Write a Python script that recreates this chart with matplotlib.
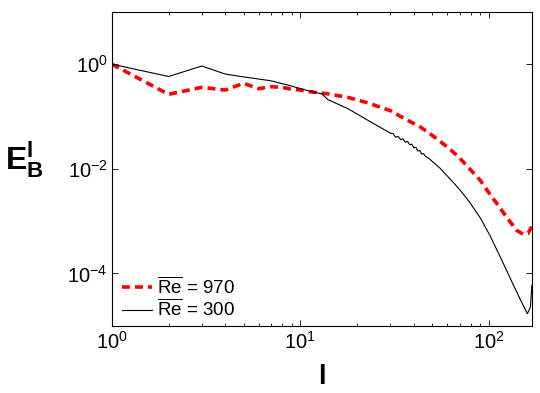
import matplotlib
matplotlib.use("Agg")
import matplotlib.pyplot as plt
from matplotlib.ticker import LogLocator, NullLocator, NullFormatter

plt.rcParams['font.family'] = ['Liberation Sans', 'DejaVu Sans']
plt.rcParams['mathtext.fontset'] = 'custom'
plt.rcParams['mathtext.rm'] = 'Liberation Sans'
plt.rcParams['mathtext.it'] = 'Liberation Sans:italic'
plt.rcParams['mathtext.bf'] = 'Liberation Sans:bold'

# spectrum for Re = 970 (red dashed)
l_970 = [1, 2, 3, 4, 5, 6, 7, 8, 9, 10, 11, 14, 18, 23, 30, 36, 43, 49, 55,
         62, 70, 79, 90, 101, 112, 124, 140, 152, 161, 169]
e_970 = [1.0, 0.265, 0.36, 0.32, 0.43, 0.34, 0.37, 0.36, 0.33, 0.32, 0.30,
         0.27, 0.23, 0.18, 0.129, 0.089, 0.064, 0.046, 0.0336, 0.024, 0.016,
         0.010, 0.006, 0.0033, 0.002, 0.0012, 0.00067, 0.00056, 0.00058,
         0.0008]

# spectrum for Re = 300 (black solid)
l_300 = [1, 2, 3, 4, 5, 7, 9, 11, 13, 14, 18, 23, 30, 31, 32, 33, 34, 35, 36,
         37, 38, 39, 40, 41, 42, 43, 44, 45, 46, 48, 55, 62, 70, 79, 90, 101,
         112, 124, 134, 146, 160, 166, 169]
e_300 = [1.0, 0.58, 0.92, 0.645, 0.57, 0.48, 0.38, 0.31, 0.27, 0.21, 0.139,
         0.083, 0.048, 0.047, 0.040, 0.0417, 0.036, 0.0373, 0.0322, 0.0334,
         0.0289, 0.0295, 0.0252, 0.0257, 0.0219, 0.0224, 0.0191, 0.0195,
         0.0174, 0.0158, 0.0103, 0.0065, 0.004, 0.0023, 0.00115, 0.00054,
         0.00025, 0.000115, 0.000063, 0.000033, 0.000017, 0.000023, 0.00006]

fig = plt.figure(figsize=(5.4, 3.93), dpi=100)
ax = fig.add_axes([0.207, 0.171, 0.778, 0.799])

ax.loglog(l_970, e_970, color='red', linestyle=(0, (2.2, 1.4)), linewidth=2.6,
          label=r'$\overline{\mathrm{Re}}$ = 970')
ax.loglog(l_300, e_300, color='black', linewidth=0.8,
          label=r'$\overline{\mathrm{Re}}$ = 300')

ax.set_xlim(1, 169)
ax.set_ylim(1e-5, 1e1)
ax.yaxis.set_major_locator(LogLocator(base=100.0, numticks=10))
ax.yaxis.set_minor_locator(NullLocator())
ax.xaxis.set_major_locator(LogLocator(base=10.0, numticks=10))
ax.xaxis.set_minor_locator(LogLocator(base=10.0, subs=range(2, 10), numticks=10))
ax.xaxis.set_minor_formatter(NullFormatter())

ax.tick_params(which='both', direction='in', top=True, right=True,
               labelsize=14.5, width=0.6)
ax.tick_params(which='major', length=4)
ax.tick_params(which='minor', length=2.5)
ax.tick_params(axis='y', pad=3)
for s in ax.spines.values():
    s.set_linewidth(0.8)

ax.set_xlabel('l', fontsize=20, fontweight='bold', labelpad=8)
ax.set_ylabel(r'$\mathbf{E}_{\mathbf{B}}^{\mathbf{l}}$', fontsize=23,
              rotation=0, va='center', ha='left')
ax.yaxis.set_label_coords(-0.255, 0.53)

ax.legend(loc='lower left', bbox_to_anchor=(-0.012, -0.03), frameon=False,
          fontsize=13.5, handlelength=1.6, handletextpad=0.3, labelspacing=0.05,
          borderpad=0.3)

fig.savefig('out.png', dpi=100)
